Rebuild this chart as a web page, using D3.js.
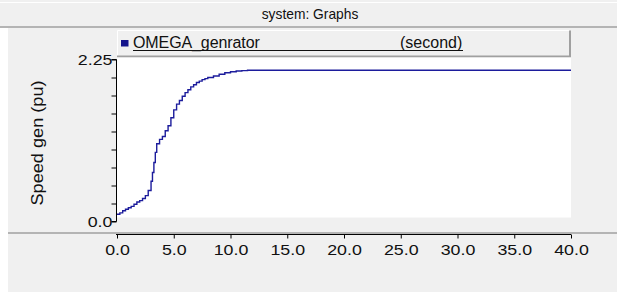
<!DOCTYPE html>
<html>
<head>
<meta charset="utf-8">
<script src="https://cdn.jsdelivr.net/npm/d3@7"></script>
<style>
  body { margin: 0; background: #f0f0f0; }
  svg { display: block; font-family: "Liberation Sans", Arial, sans-serif; }
</style>
</head>
<body>
<svg id="chart" width="617" height="292"></svg>
<script>
// time (s) and generator speed (pu)
var times = [0, 0.25, 0.5, 0.75, 1, 1.25, 1.5, 1.75, 2, 2.25, 2.5, 2.75, 3, 3.125, 3.25, 3.375, 3.5, 3.75,
    4, 4.25, 4.5, 4.75, 5, 5.25, 5.5, 5.75, 6, 6.25, 6.5, 6.75, 7, 7.25, 7.5, 7.75,
    8, 8.5, 9, 9.5, 10, 10.5, 11, 11.5, 12, 40];
var speed = [0.10, 0.12, 0.15, 0.17, 0.19, 0.21, 0.24, 0.27, 0.29, 0.32, 0.36, 0.43, 0.56, 0.68, 0.82, 0.96, 1.08, 1.14,
    1.18, 1.26, 1.33, 1.44, 1.55, 1.63, 1.68, 1.74, 1.79, 1.83, 1.87, 1.90, 1.93, 1.95, 1.97, 1.985,
    2.00, 2.02, 2.045, 2.065, 2.08, 2.09, 2.095, 2.10, 2.10, 2.10];
var xTicks = [0, 5, 10, 15, 20, 25, 30, 35, 40];
var yTicks = [0, 0.25, 0.5, 0.75, 1, 1.25, 1.5, 1.75, 2, 2.25];
var yLabels = [0, 2.25];
var seriesName = 'OMEGA_genrator';
var seriesUnit = '(second)';

var svg = d3.select('#chart');
var left = 116, right = 571;

var x = d3.scaleLinear().domain([0, 40]).range([left + 1, right]);
var y = d3.scaleLinear().domain([0, 2.25]).range([221.5, 59.5]);

// frame pieces
svg.append('rect').attr('x', 0).attr('y', 0).attr('width', 617).attr('height', 292).attr('fill', '#f0f0f0');
svg.append('line').attr('x1', 0).attr('x2', 617).attr('y1', 2.5).attr('y2', 2.5).attr('stroke', '#ffffff');
svg.append('line').attr('x1', 0).attr('x2', 617).attr('y1', 27).attr('y2', 27).attr('stroke', '#a0a0a0').attr('stroke-width', 1.5);
svg.append('rect').attr('x', 0).attr('y', 28).attr('width', 8).attr('height', 264).attr('fill', '#ffffff');
svg.append('line').attr('x1', 8).attr('x2', 617).attr('y1', 233).attr('y2', 233).attr('stroke', '#a0a0a0').attr('stroke-width', 1.5);

svg.append('text').attr('transform', 'translate(310,18.5) scale(0.92,1)').attr('text-anchor', 'middle')
    .attr('font-size', 15).attr('fill', '#111').text('system: Graphs');

// legend box
svg.append('rect').attr('x', 117).attr('y', 30.5).attr('width', 453).attr('height', 26)
    .attr('fill', '#f0f0f0');
svg.append('path').attr('d', 'M117.5,57V30.5H570').attr('fill', 'none').attr('stroke', '#ffffff');
svg.append('path').attr('d', 'M570,30.5V56.5H117').attr('fill', 'none').attr('stroke', '#a0a0a0').attr('stroke-width', 2);
svg.append('rect').attr('x', 121).attr('y', 40).attr('width', 7.5).attr('height', 6.5).attr('fill', '#14148c');
svg.append('text').attr('x', 133).attr('y', 48).attr('font-size', 16).attr('letter-spacing', -0.1)
    .attr('fill', '#111').text(seriesName);
svg.append('text').attr('x', 400).attr('y', 48).attr('font-size', 16)
    .attr('fill', '#111').text(seriesUnit);
svg.append('line').attr('x1', 133).attr('x2', 463).attr('y1', 50.5).attr('y2', 50.5).attr('stroke', '#111');

// plot area
svg.append('rect').attr('x', 117).attr('y', 57.5).attr('width', 454).attr('height', 160).attr('fill', '#ffffff');

// y axis
var yAxis = d3.axisLeft(y).tickValues(yTicks).tickSize(5)
    .tickFormat(function(d) { return yLabels.indexOf(d) >= 0 ? (d === 0 ? '0.0' : d3.format('.2f')(d)) : ''; });
var gy = svg.append('g').attr('transform', 'translate(' + (left + 0.5) + ',0)').call(yAxis);
gy.select('.domain').attr('d', 'M-5,59.5H0V221.5H-5');
gy.selectAll('text').attr('font-size', 15.5).attr('fill', '#111').attr('x', -3.5)
    .attr('transform', 'scale(1.15,1)')
    .attr('font-family', '"Liberation Sans", Arial, sans-serif');

svg.append('text').attr('transform', 'translate(43,143) rotate(-90) scale(1.1,1)').attr('text-anchor', 'middle')
    .attr('font-size', 16.5).attr('fill', '#111').text('Speed gen (pu)');

// x axis
var xAxis = d3.axisBottom(x).tickValues(xTicks).tickSize(4).tickFormat(d3.format('.1f')).tickSizeOuter(0);
var gx = svg.append('g').attr('transform', 'translate(0,234.5)').call(xAxis);
gx.select('.domain').attr('d', 'M' + left + ',0H' + right);
gx.selectAll('text').attr('font-size', 15.5).attr('fill', '#111').attr('dy', '0.85em')
    .attr('transform', 'scale(1.15,1)')
    .attr('font-family', '"Liberation Sans", Arial, sans-serif');

// series
var line = d3.line()
    .x(function(d) { return x(d[0]); })
    .y(function(d) { return y(d[1]); })
    .curve(d3.curveStepAfter);
svg.append('path').datum(d3.zip(times, speed))
    .attr('d', line).attr('fill', 'none')
    .attr('stroke', '#1c1c9c').attr('stroke-width', 1.4);
</script>
</body>
</html>
